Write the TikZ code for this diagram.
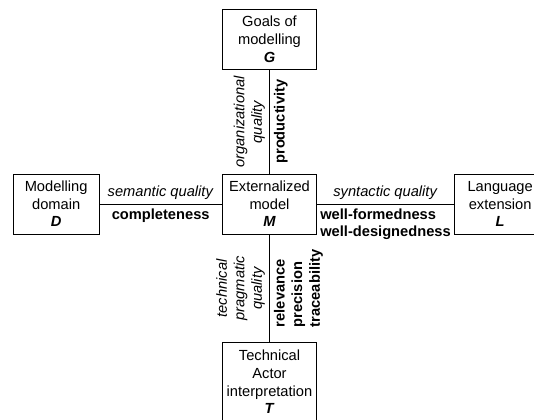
\documentclass[tikz,border=0pt]{standalone}
\usepackage{fontspec}
\setmainfont{Liberation Sans}
\usetikzlibrary{positioning}

\begin{document}
\begin{tikzpicture}[x = 0.75pt, y = -0.75pt, node distance = 160pt, line width = 0.7pt,
    box/.style = {draw, align = center, minimum width = 71pt, minimum height = 45pt,
        inner sep = 2pt, font = \fontsize{11}{13.2}\selectfont},
    lbl/.style = {font = \fontsize{11}{13.2}\selectfont, inner sep = 3pt}]
\useasboundingbox (0,0) rectangle (534,420);
\clip (0,0) rectangle (534,420);

\node[box] (M) at (269.5,204) {Externalized\\model\\\textbf{\textit{M}}};
\node[box, minimum width = 64.5pt] (D) [left of = M] {Modelling\\domain\\\textbf{\textit{D}}};
\node[box, minimum width = 69pt] (L) [right of = M, node distance = 173pt] {Language\\extension\\\textbf{\textit{L}}};
\node[box] (G) [above of = M, node distance = 123.5pt] {Goals of\\modelling\\\textbf{\textit{G}}};
\node[box, minimum height = 59pt] (T) [below of = M, node distance = 133.5pt] {Technical\\Actor\\interpretation\\\textbf{\textit{T}}};

\path (D) edge node [lbl, above] {\textit{semantic quality}}
        node [lbl, below] {\textbf{completeness}} (M)
    (M) edge node [lbl, above] {\textit{syntactic quality}}
        node [lbl, below, align = left] {\textbf{well-formedness}\\\textbf{well-designedness}} (L)
    (G) edge node [lbl, rotate = 90, anchor = south, align = center] {\textit{organizational}\\\textit{quality}}
        node [lbl, rotate = 90, anchor = north] {\textbf{productivity}} (M)
    (M) edge node [lbl, rotate = 90, anchor = south, align = center] {\textit{technical}\\\textit{pragmatic}\\\textit{quality}}
        node [lbl, rotate = 90, anchor = north, align = left] {\textbf{relevance}\\\textbf{precision}\\\textbf{traceability}} (T);
\end{tikzpicture}
\end{document}
